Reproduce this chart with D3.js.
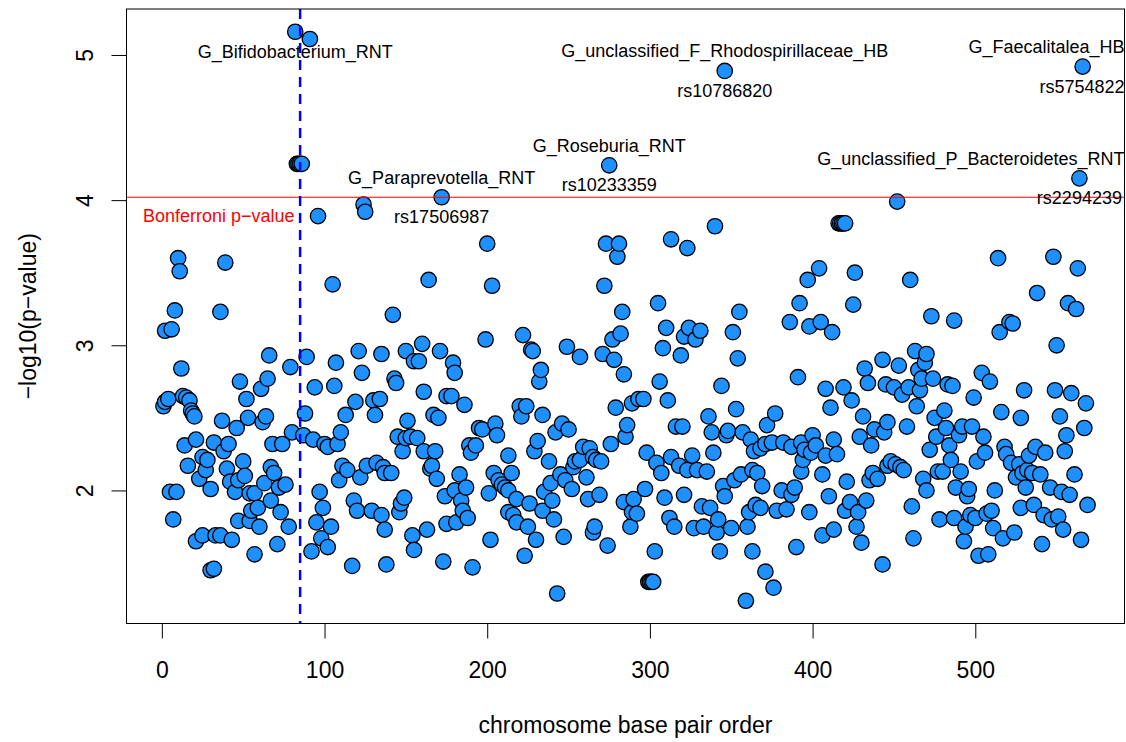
<!DOCTYPE html>
<meta charset="utf-8">
<title>Manhattan plot</title>
<script src="https://d3js.org/d3.v7.min.js"></script>
<style>
	body { margin: 0; background: #fff; }
	svg { display: block; font-family: "Liberation Sans", Arial, Helvetica, sans-serif; }
</style>
<div id="chart"></div>
<script>

// position of each SNP along the genome (order) and its -log10(p)
var bpOrder = [
	82, 91, 83, 84, 85, 86, 124, 125, 96, 10,
	11, 39, 105, 8, 36, 2, 6, 12, 66, 79,
	89, 107, 121, 135, 123, 48, 65, 61, 52, 94,
	106, 1, 2, 4, 13, 15, 17, 18, 19, 20,
	37, 53, 64, 62, 46, 88, 119, 130, 134, 113,
	131, 21, 14, 32, 38, 41, 25, 28, 27, 16,
	23, 30, 40, 50, 42, 45, 47, 51, 68, 74,
	80, 87, 93, 100, 102, 108, 110, 67, 69, 63,
	57, 54, 76, 72, 67, 59, 55, 73, 78, 60,
	47, 54, 5, 9, 7, 21, 25, 33, 36, 43,
	57, 71, 30, 32, 97, 99, 95, 104, 98, 102,
	92, 111, 114, 122, 126, 132, 136, 137, 109, 118,
	120, 129, 135, 137, 117, 138, 172, 200, 164, 203,
	142, 275, 273, 281, 280, 272, 283, 150, 160, 158,
	155, 171, 179, 180, 199, 222, 227, 228, 233, 232,
	249, 257, 271, 277, 282, 278, 284, 143, 144, 161,
	175, 178, 186, 167, 170, 151, 145, 150, 153, 157,
	148, 161, 168, 166, 165, 169, 141, 195, 197, 205,
	206, 189, 190, 193, 220, 224, 221, 234, 242, 246,
	250, 231, 229, 213, 238, 215, 204, 207, 209, 211,
	213, 201, 218, 226, 213, 216, 218, 225, 230, 183,
	187, 180, 184, 185, 188, 174, 175, 181, 149, 147,
	146, 154, 163, 155, 173, 191, 202, 223, 243, 239,
	235, 240, 234, 241, 245, 248, 253, 254, 257, 259,
	263, 265, 267, 270, 252, 261, 247, 262, 269, 265,
	266, 274, 276, 279, 289, 293, 286, 285, 284, 290,
	289, 292, 288, 346, 340, 313, 323, 416, 417, 418,
	419, 420, 404, 397, 426, 305, 355, 392, 425, 386,
	405, 310, 324, 331, 328, 321, 308, 319, 351, 354,
	398, 412, 391, 306, 344, 408, 419, 424, 411, 432,
	434, 443, 445, 311, 296, 353, 336, 338, 377, 372,
	431, 316, 320, 348, 347, 357, 362, 364, 371, 375,
	368, 382, 387, 393, 395, 400, 402, 399, 394, 413,
	408, 415, 429, 436, 438, 444, 446, 298, 304, 307,
	313, 318, 323, 326, 329, 335, 339, 297, 309, 321,
	312, 315, 327, 333, 337, 332, 342, 341, 350, 360,
	345, 346, 352, 356, 363, 366, 369, 361, 365, 368,
	378, 384, 381, 387, 389, 393, 398, 406, 410, 421,
	423, 428, 433, 420, 406, 413, 427, 430, 435, 440,
	446, 437, 303, 343, 363, 390, 299, 300, 301, 302,
	371, 376, 359, 443, 566, 564, 452, 514, 548, 563,
	460, 538, 557, 562, 473, 487, 521, 515, 523, 550,
	463, 470, 469, 465, 453, 450, 455, 459, 466, 467,
	474, 483, 486, 464, 504, 509, 499, 530, 549, 559,
	568, 516, 528, 552, 567, 556, 458, 475, 481, 482,
	476, 472, 484, 490, 492, 498, 505, 506, 501, 485,
	518, 519, 522, 527, 533, 537, 543, 555, 448, 451,
	454, 456, 477, 480, 491, 468, 470, 488, 495, 496,
	512, 525, 529, 532, 531, 535, 540, 546, 553, 558,
	561, 569, 461, 478, 487, 494, 497, 500, 507, 510,
	511, 517, 524, 528, 536, 542, 547, 551, 554, 462,
	493, 502, 508, 541, 565
];

var logP = [
	5.16, 5.11, 4.25, 4.25, 4.25, 4.25, 3.97, 3.92, 3.89, 3.60,
	3.51, 3.57, 3.42, 3.24, 3.23, 3.10, 3.11, 2.84, 2.93, 2.85,
	2.92, 2.88, 2.96, 2.94, 2.81, 2.75, 2.77, 2.70, 2.63, 2.71,
	2.72, 2.58, 2.61, 2.63, 2.65, 2.64, 2.62, 2.55, 2.53, 2.51,
	2.48, 2.50, 2.51, 2.47, 2.43, 2.53, 2.61, 2.62, 2.63, 2.52,
	2.52, 2.35, 2.31, 2.33, 2.27, 2.32, 2.23, 2.21, 2.14, 2.17,
	2.08, 2.01, 2.15, 2.20, 2.06, 1.99, 2.07, 2.10, 2.32, 2.32,
	2.40, 2.38, 2.35, 2.32, 2.30, 2.32, 2.40, 2.16, 2.12, 2.05,
	1.98, 1.98, 2.04, 2.02, 1.93, 1.88, 1.86, 1.85, 1.75, 1.75,
	1.79, 1.79, 1.99, 1.99, 1.80, 1.65, 1.69, 1.69, 1.69, 1.66,
	1.56, 1.63, 1.45, 1.46, 1.99, 1.88, 1.78, 1.75, 1.67, 1.61,
	1.58, 2.17, 2.14, 2.09, 2.17, 2.19, 2.16, 2.12, 2.07, 1.93,
	1.86, 1.86, 1.83, 1.73, 1.48, 1.49, 4.02, 3.70, 3.45, 3.41,
	3.21, 4.24, 3.70, 3.70, 3.61, 3.41, 3.23, 2.96, 3.01, 2.89,
	2.89, 2.96, 2.88, 2.81, 3.04, 3.07, 2.97, 2.96, 2.83, 2.75,
	2.99, 2.92, 2.94, 3.04, 3.08, 2.90, 2.80, 2.77, 2.74, 2.68,
	2.65, 2.65, 2.59, 2.52, 2.50, 2.48, 2.37, 2.36, 2.37, 2.36,
	2.27, 2.27, 2.27, 2.17, 2.15, 2.08, 2.12, 2.43, 2.42, 2.46,
	2.38, 2.31, 2.26, 2.31, 2.58, 2.58, 2.51, 2.52, 2.40, 2.46,
	2.42, 2.34, 2.27, 2.24, 2.20, 2.12, 2.12, 2.07, 2.04, 2.02,
	2.00, 1.98, 1.94, 1.91, 1.85, 1.83, 1.78, 1.75, 1.66, 2.11,
	2.02, 2.00, 1.93, 1.86, 1.81, 1.96, 1.77, 1.78, 1.95, 1.91,
	1.85, 1.69, 1.73, 1.59, 1.51, 1.47, 1.66, 1.55, 1.29, 2.05,
	1.99, 1.93, 1.86, 1.80, 2.11, 2.07, 2.16, 2.20, 2.21, 2.30,
	2.29, 2.23, 2.21, 2.20, 2.01, 2.09, 1.68, 1.94, 1.97, 1.71,
	1.75, 1.62, 2.32, 2.57, 2.60, 2.63, 2.45, 2.37, 1.92, 1.94,
	1.85, 1.84, 1.75, 4.89, 3.82, 3.73, 3.67, 3.84, 3.84, 3.84,
	3.84, 3.84, 3.53, 3.45, 3.50, 3.29, 3.23, 3.29, 3.28, 3.16,
	3.16, 3.12, 3.12, 3.10, 3.04, 3.06, 2.98, 2.93, 3.09, 2.91,
	3.13, 3.09, 2.78, 2.75, 2.72, 2.70, 2.71, 2.62, 2.57, 2.84,
	2.74, 2.90, 2.73, 2.62, 2.63, 2.56, 2.51, 2.40, 2.53, 2.45,
	2.51, 2.44, 2.44, 2.41, 2.38, 2.40, 2.35, 2.27, 2.32, 2.33,
	2.29, 2.33, 2.30, 2.33, 2.28, 2.38, 2.31, 2.26, 2.21, 2.35,
	2.24, 2.25, 2.37, 2.31, 2.42, 2.40, 2.47, 2.26, 2.19, 2.12,
	2.23, 2.17, 2.14, 2.24, 2.14, 2.13, 2.26, 2.01, 1.95, 1.97,
	1.81, 1.75, 1.74, 1.75, 1.88, 1.89, 1.80, 1.71, 1.74, 1.75,
	2.03, 1.96, 2.07, 2.11, 2.14, 2.12, 2.03, 1.85, 1.90, 1.88,
	1.86, 1.87, 2.00, 1.97, 2.02, 2.13, 1.85, 2.11, 1.96, 2.06,
	1.92, 1.85, 1.93, 1.86, 1.69, 1.73, 1.75, 1.64, 2.07, 2.08,
	2.17, 2.12, 1.58, 1.58, 1.58, 1.61, 1.37, 1.37, 1.37, 1.37,
	1.44, 1.33, 1.24, 1.49, 4.92, 4.15, 3.99, 3.60, 3.61, 3.53,
	3.45, 3.36, 3.29, 3.25, 3.20, 3.17, 3.16, 3.09, 3.15, 3.00,
	2.96, 2.94, 2.88, 2.83, 2.86, 2.71, 2.66, 2.71, 2.69, 2.77,
	2.77, 2.73, 2.72, 2.58, 2.81, 2.75, 2.64, 2.69, 2.69, 2.67,
	2.60, 2.54, 2.50, 2.51, 2.43, 2.38, 2.44, 2.50, 2.55, 2.43,
	2.37, 2.28, 2.31, 2.38, 2.44, 2.44, 2.37, 2.26, 2.20, 2.21,
	2.30, 2.25, 2.19, 2.18, 2.24, 2.30, 2.26, 2.27, 2.20, 2.18,
	2.16, 2.14, 2.13, 2.13, 2.13, 2.08, 2.00, 2.02, 1.96, 2.01,
	2.00, 2.09, 2.12, 2.14, 2.02, 2.12, 2.11, 2.02, 1.99, 1.97,
	2.11, 1.90, 1.89, 1.80, 1.81, 1.75, 1.83, 1.81, 1.84, 1.86,
	1.74, 1.67, 1.71, 1.88, 1.90, 1.83, 1.80, 1.82, 1.73, 1.67,
	1.65, 1.55, 1.56, 1.63, 1.66
];

// annotated hits: taxon above the point, SNP id below
var labelBp = [82, 172, 275, 346, 564, 566];
var labelTaxa = ["G_Bifidobacterium_RNT", "G_Paraprevotella_RNT", "G_Roseburia_RNT",
	"G_unclassified_F_Rhodospirillaceae_HB", "G_unclassified_P_Bacteroidetes_RNT", "G_Faecalitalea_HB"];
var labelSnps = ["", "rs17506987", "rs10233359", "rs10786820", "rs2294239", "rs5754822"];

var xTicks = [0, 100, 200, 300, 400, 500];
var yTicks = [2, 3, 4, 5];

var bonferroni = 4.02;   // threshold line
var markerBp = 85;       // dashed vertical marker
var bonfText = "Bonferroni p\u2212value";
var bonfAt = [35, 3.89];

var width = 1126, height = 742;
var plot = {left: 126.5, right: 1124.5, top: 9, bottom: 623.5};

if (bpOrder.length != logP.length) console.log("length mismatch", bpOrder.length, logP.length);

var points = bpOrder.map(function(d, i) { return {bp: d, logp: logP[i]}; })
	.sort(function(a, b) { return a.bp - b.bp; });

// like R: data range widened by 4% on both sides
function padded(ext) {
	var p = (ext[1] - ext[0]) * 0.04;
	return [ext[0] - p, ext[1] + p];
}

var x = d3.scaleLinear()
	.domain(padded(d3.extent(points, function(d) { return d.bp; })))
	.range([plot.left, plot.right]);

var y = d3.scaleLinear()
	.domain(padded(d3.extent(points, function(d) { return d.logp; })))
	.range([plot.bottom, plot.top]);

var svg = d3.select("#chart").append("svg")
	.attr("width", width)
	.attr("height", height);

svg.append("rect").attr("width", width).attr("height", height).attr("fill", "#fff");

svg.append("clipPath").attr("id", "clip")
	.append("rect")
	.attr("x", plot.left).attr("y", plot.top)
	.attr("width", plot.right - plot.left).attr("height", plot.bottom - plot.top);

// points
svg.append("g")
	.selectAll("circle")
	.data(points)
	.enter().append("circle")
	.attr("cx", function(d) { return x(d.bp); })
	.attr("cy", function(d) { return y(d.logp); })
	.attr("r", 7.7)
	.attr("fill", "#1E90FF")
	.attr("stroke", "#000")
	.attr("stroke-width", 1.3);

// reference lines
var lines = svg.append("g").attr("clip-path", "url(#clip)");

lines.append("line")
	.attr("x1", plot.left).attr("x2", plot.right)
	.attr("y1", y(bonferroni)).attr("y2", y(bonferroni))
	.attr("stroke", "#ff0000")
	.attr("stroke-width", 1.2);

lines.append("line")
	.attr("x1", x(markerBp)).attr("x2", x(markerBp))
	.attr("y1", plot.top).attr("y2", plot.bottom)
	.attr("stroke", "#0000ff")
	.attr("stroke-width", 2.5)
	.attr("stroke-dasharray", "10,7");

svg.append("text")
	.attr("x", x(bonfAt[0]))
	.attr("y", y(bonfAt[1]))
	.attr("dy", "0.35em")
	.attr("text-anchor", "middle")
	.attr("fill", "#ff0000")
	.attr("font-size", 18)
	.text(bonfText);

// hit labels
var labels = svg.append("g").attr("font-size", 18).attr("fill", "#000");

function keepInside(t, cx) {
	var w = t.node().getComputedTextLength();
	if (cx + w / 2 > plot.right) t.attr("text-anchor", "end").attr("x", plot.right);
	else if (cx - w / 2 < plot.left) t.attr("text-anchor", "start").attr("x", plot.left);
}

labelBp.forEach(function(bp, i) {
	var lp = d3.max(points.filter(function(p) { return p.bp == bp; }), function(p) { return p.logp; });
	var px = x(bp), py = y(lp);
	var above = (py - 13.5 - 14) > plot.top;

	var t = labels.append("text")
		.attr("x", px)
		.attr("y", above ? py - 13.5 : py + 26)
		.attr("text-anchor", "middle")
		.text(labelTaxa[i]);
	keepInside(t, px);

	if (labelSnps[i]) {
		var s = labels.append("text")
			.attr("x", px)
			.attr("y", py + 26)
			.attr("text-anchor", "middle")
			.text(labelSnps[i]);
		keepInside(s, px);
	}
});

// axes
var gx = svg.append("g")
	.attr("transform", "translate(0," + plot.bottom + ")")
	.call(d3.axisBottom(x).tickValues(xTicks).tickFormat(d3.format("d")).tickSize(15).tickPadding(23));
gx.select(".domain").remove();
gx.append("line")
	.attr("x1", x(xTicks[0])).attr("x2", x(xTicks[xTicks.length - 1]))
	.attr("stroke", "#000");

var gy = svg.append("g")
	.attr("transform", "translate(" + plot.left + ",0)")
	.call(d3.axisLeft(y).tickValues(yTicks).tickFormat(d3.format("d")).tickSize(15));
gy.select(".domain").remove();
gy.append("line")
	.attr("y1", y(yTicks[0])).attr("y2", y(yTicks[yTicks.length - 1]))
	.attr("stroke", "#000");
gy.selectAll("text")
	.attr("transform", "rotate(-90)")
	.attr("x", 0)
	.attr("y", -34)
	.attr("dy", 0)
	.attr("text-anchor", "middle");

svg.selectAll(".tick line").attr("stroke", "#000");
[gx, gy].forEach(function(g) {
	g.attr("font-family", null).attr("font-size", 23);
	g.selectAll("text").attr("fill", "#000");
});

// frame
svg.append("rect")
	.attr("x", plot.left).attr("y", plot.top)
	.attr("width", plot.right - plot.left).attr("height", plot.bottom - plot.top)
	.attr("fill", "none")
	.attr("stroke", "#000")
	.attr("stroke-width", 1);

// axis titles
svg.append("text")
	.attr("x", (plot.left + plot.right) / 2)
	.attr("y", 733)
	.attr("text-anchor", "middle")
	.attr("font-size", 23)
	.text("chromosome base pair order");

svg.append("text")
	.attr("transform", "translate(36," + (plot.top + plot.bottom) / 2 + ") rotate(-90)")
	.attr("text-anchor", "middle")
	.attr("font-size", 23)
	.text("\u2212log10(p\u2212value)");

</script>
